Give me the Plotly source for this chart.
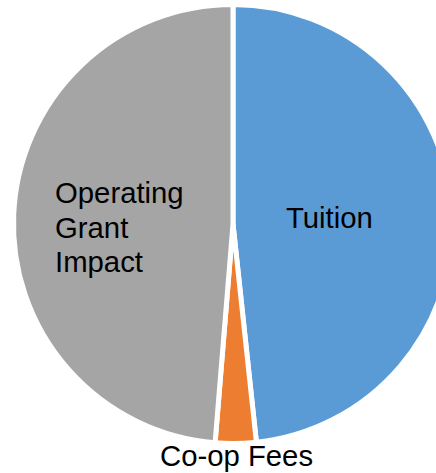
import plotly.graph_objects as go

labels = ["Tuition", "Co-op Fees", "Operating Grant Impact"]
values = [48.3, 3.0, 48.7]
colors = ["#5B9BD5", "#ED7D31", "#A5A5A5"]

W, H = 466, 473
FONT = "Liberation Sans, Arial, Helvetica, sans-serif"
FS = 29.3

fig = go.Figure(go.Pie(
    labels=labels,
    values=values,
    sort=False,
    direction="clockwise",
    rotation=0,
    marker=dict(colors=colors, line=dict(color="white", width=5)),
    textinfo="none",
    hoverinfo="label+value",
    showlegend=False,
    domain=dict(x=[0, 1], y=[(H - 443.5) / H, (H - 4.5) / H]),
))

def px(x):
    return x / W

def py(y):
    return 1 - y / H

ann = []
ann.append(dict(text=labels[0], x=px(329.5), y=py(217.3), xanchor="center", yanchor="middle"))
ann.append(dict(text=labels[1], x=px(236.7), y=py(455.5), xanchor="center", yanchor="middle"))
for i, word in enumerate(labels[2].split(" ")):
    ann.append(dict(text=word, x=px(52.5), y=py(192.7 + 34.5 * i), xanchor="left", yanchor="middle"))

for a in ann:
    a.update(xref="paper", yref="paper", showarrow=False,
             font=dict(family=FONT, size=FS, color="black"))

fig.update_layout(
    width=W, height=H,
    margin=dict(l=0, r=0, t=0, b=0, pad=0),
    paper_bgcolor="white",
    plot_bgcolor="white",
    annotations=ann,
)

fig.write_html(
    "out.html",
    config={"displayModeBar": False},
    post_script="document.body.style.margin='0';document.body.style.overflow='hidden';document.documentElement.style.overflow='hidden';",
)
